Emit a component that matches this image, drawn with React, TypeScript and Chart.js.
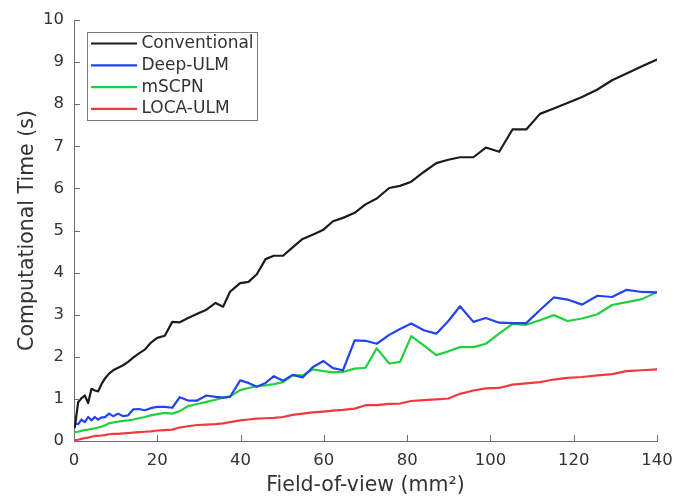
import React, { useEffect, useRef } from "react";
import { Chart, registerables } from "chart.js";

Chart.register(...registerables);

// Field-of-view (mm^2) sample positions
const fovX = [
  0.2, 1.0, 1.8, 2.6, 3.4, 4.2, 5.0, 5.8, 6.6, 7.4,
  8.4, 9.4, 10.6, 11.8, 13.0, 14.2, 15.6, 17.0, 18.4, 20.0,
  21.8, 23.6, 25.4, 27.4, 29.6, 31.8, 34.0, 35.8, 37.5, 39.9,
  41.9, 43.9, 46.0, 48.0, 50.2, 52.5, 54.9, 57.3, 59.9, 62.2,
  64.6, 67.4, 70.0, 72.7, 75.7, 78.3, 81.0, 84.0, 87.0, 89.9,
  92.7, 95.9, 98.9, 102.1, 105.3, 108.6, 111.9, 115.2, 118.5, 122.0,
  125.7, 129.2, 132.7, 136.4, 140.0,
];

const conventional = [
  0.33, 0.92, 1.02, 1.08, 0.90, 1.24, 1.20, 1.18, 1.35, 1.48,
  1.60, 1.68, 1.74, 1.80, 1.88, 1.98, 2.08, 2.17, 2.33, 2.45,
  2.50, 2.83, 2.82, 2.92, 3.02, 3.12, 3.28, 3.19, 3.55, 3.75,
  3.78, 3.96, 4.32, 4.40, 4.40, 4.60, 4.80, 4.90, 5.02, 5.22,
  5.30, 5.42, 5.62, 5.76, 6.01, 6.06, 6.16, 6.39, 6.60, 6.68,
  6.74, 6.74, 6.97, 6.87, 7.40, 7.40, 7.77, 7.90, 8.03, 8.17,
  8.35, 8.57, 8.73, 8.90, 9.06,
];

const deepULM = [
  0.41, 0.40, 0.51, 0.45, 0.57, 0.49, 0.57, 0.51, 0.56, 0.56,
  0.65, 0.59, 0.65, 0.59, 0.61, 0.75, 0.76, 0.73, 0.78, 0.81,
  0.81, 0.79, 1.04, 0.96, 0.96, 1.08, 1.05, 1.03, 1.05, 1.44,
  1.38, 1.29, 1.38, 1.54, 1.43, 1.57, 1.51, 1.75, 1.90, 1.73,
  1.68, 2.39, 2.38, 2.31, 2.52, 2.66, 2.79, 2.63, 2.55, 2.85,
  3.20, 2.83, 2.92, 2.81, 2.80, 2.80, 3.11, 3.41, 3.36, 3.24,
  3.45, 3.42, 3.59, 3.54, 3.53,
];

const mSCPN = [
  0.21, 0.22, 0.24, 0.26, 0.27, 0.29, 0.30, 0.32, 0.34, 0.37,
  0.42, 0.44, 0.46, 0.48, 0.49, 0.51, 0.54, 0.57, 0.61, 0.64,
  0.67, 0.65, 0.71, 0.83, 0.88, 0.93, 0.98, 1.03, 1.06, 1.21,
  1.26, 1.30, 1.32, 1.35, 1.40, 1.56, 1.56, 1.70, 1.66, 1.63,
  1.64, 1.72, 1.74, 2.20, 1.84, 1.88, 2.49, 2.27, 2.04, 2.13,
  2.23, 2.23, 2.31, 2.55, 2.78, 2.76, 2.87, 2.99, 2.85, 2.91,
  3.01, 3.23, 3.30, 3.37, 3.54,
];

const locaULM = [
  0.02, 0.03, 0.05, 0.07, 0.08, 0.10, 0.12, 0.12, 0.13, 0.14,
  0.16, 0.17, 0.17, 0.18, 0.19, 0.20, 0.21, 0.22, 0.23, 0.25,
  0.26, 0.27, 0.32, 0.35, 0.38, 0.39, 0.40, 0.42, 0.45, 0.49,
  0.51, 0.53, 0.54, 0.55, 0.57, 0.62, 0.65, 0.68, 0.70, 0.72,
  0.74, 0.77, 0.85, 0.85, 0.88, 0.89, 0.95, 0.97, 0.99, 1.01,
  1.12, 1.20, 1.25, 1.26, 1.34, 1.37, 1.40, 1.46, 1.50, 1.52,
  1.56, 1.59, 1.66, 1.68, 1.70,
];

const seriesLabels = ["Conventional", "Deep-ULM", "mSCPN", "LOCA-ULM"];
const seriesValues = [conventional, deepULM, mSCPN, locaULM];
const seriesColors = ["#1c1c1c", "#2343f0", "#22cf3c", "#f0393c"];

const xMin = 0;
const xMax = 140;
const xStep = 20;
const yMin = 0;
const yMax = 10;
const yStep = 1;
const xTitle = "Field-of-view (mm²)";
const yTitle = "Computational Time (s)";

const FONT = "'DejaVu Sans', 'Liberation Sans', sans-serif";
const AXIS = "#6e6e6e";
const TEXT = "#333333";

const inwardTicks = {
  id: "inwardTicks",
  afterDraw(chart: any) {
    const { ctx, chartArea, scales } = chart;
    const xs = scales.x;
    const ys = scales.y;
    ctx.save();
    ctx.strokeStyle = AXIS;
    ctx.lineWidth = 1;
    ctx.beginPath();
    xs.ticks.forEach((t: any) => {
      const px = Math.round(xs.getPixelForValue(t.value)) + 0.5;
      ctx.moveTo(px, chartArea.bottom);
      ctx.lineTo(px, chartArea.bottom - 6);
    });
    ys.ticks.forEach((t: any) => {
      const py = Math.round(ys.getPixelForValue(t.value)) + 0.5;
      ctx.moveTo(chartArea.left, py);
      ctx.lineTo(chartArea.left + 6, py);
    });
    ctx.stroke();
    ctx.restore();
  },
};

const boxLegend = {
  id: "boxLegend",
  afterDraw(chart: any) {
    const { ctx } = chart;
    const left = 87.5;
    const top = 32.5;
    const w = 170;
    const h = 88;
    ctx.save();
    ctx.fillStyle = "#ffffff";
    ctx.fillRect(left, top, w, h);
    ctx.strokeStyle = "#7a7a7a";
    ctx.lineWidth = 1;
    ctx.strokeRect(left, top, w, h);
    chart.data.datasets.forEach((ds: any, i: number) => {
      const cy = 43.5 + i * 21.8;
      ctx.strokeStyle = ds.borderColor;
      ctx.lineWidth = 2.2;
      ctx.beginPath();
      ctx.moveTo(91, cy);
      ctx.lineTo(137, cy);
      ctx.stroke();
      ctx.fillStyle = TEXT;
      ctx.font = `17px ${FONT}`;
      ctx.textAlign = "left";
      ctx.textBaseline = "middle";
      ctx.fillText(ds.label, 141.5, cy);
    });
    ctx.restore();
  },
};

export default function App() {
  const canvasRef = useRef<HTMLCanvasElement | null>(null);

  useEffect(() => {
    if (!canvasRef.current) return;
    const datasets = seriesLabels.map((label, i) => ({
      label,
      data: fovX.map((x, k) => ({ x, y: seriesValues[i][k] })),
      borderColor: seriesColors[i],
      backgroundColor: seriesColors[i],
      borderWidth: 2.2,
      pointRadius: 0,
      tension: 0,
      borderJoinStyle: "round" as const,
      borderCapStyle: "round" as const,
      fill: false,
    }));
    const chart = new Chart(canvasRef.current, {
      type: "line",
      data: { datasets },
      options: {
        animation: false,
        responsive: false,
        devicePixelRatio: 1,
        layout: { padding: { left: 0, top: 20, right: 21, bottom: 0 } },
        plugins: {
          legend: { display: false },
          tooltip: { enabled: false },
        },
        scales: {
          x: {
            type: "linear",
            min: xMin,
            max: xMax,
            grid: { display: false, drawTicks: true, tickLength: 10 },
            border: { display: true, color: AXIS, width: 1 },
            ticks: {
              stepSize: xStep,
              color: TEXT,
              font: { family: FONT, size: 16.5 },
              padding: 0,
              maxRotation: 0,
              autoSkip: false,
            },
            title: {
              display: true,
              text: xTitle,
              color: TEXT,
              font: { family: FONT, size: 20.5 },
              padding: { top: 0, bottom: 1 },
            },
            afterFit: (s: any) => {
              s.height = 58;
            },
          },
          y: {
            type: "linear",
            min: yMin,
            max: yMax,
            grid: { display: false, drawTicks: true, tickLength: 10 },
            border: { display: true, color: AXIS, width: 1 },
            ticks: {
              stepSize: yStep,
              color: TEXT,
              font: { family: FONT, size: 16.5 },
              padding: 0,
            },
            title: {
              display: true,
              text: yTitle,
              color: TEXT,
              font: { family: FONT, size: 20.5 },
              padding: { top: 15, bottom: 0 },
            },
            afterFit: (s: any) => {
              s.width = 74;
            },
          },
        },
      },
      plugins: [inwardTicks, boxLegend],
    });
    return () => chart.destroy();
  }, []);

  return (
    <div style={{ position: "absolute", left: 0, top: 0, width: 678, height: 499, background: "#ffffff" }}>
      <canvas ref={canvasRef} width={678} height={499} style={{ display: "block" }} />
    </div>
  );
}
